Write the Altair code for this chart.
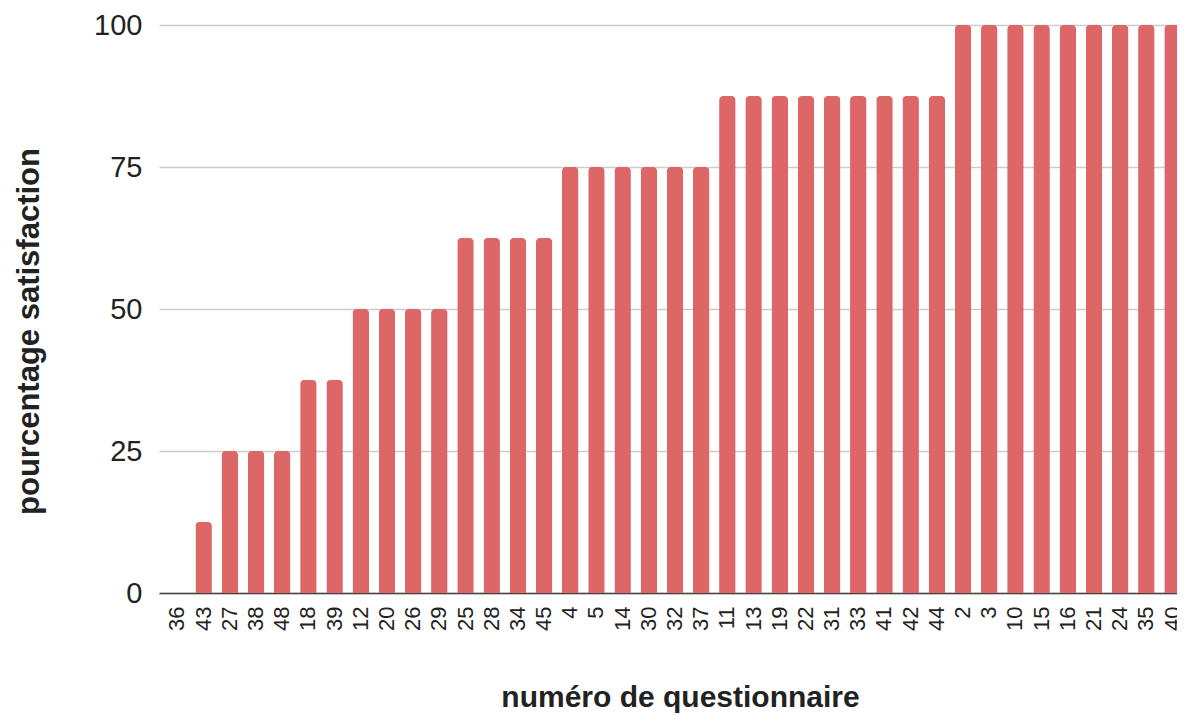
import altair as alt
import pandas as pd

questionnaires = ["36", "43", "27", "38", "48", "18", "39", "12", "20", "26", "29",
                  "25", "28", "34", "45", "4", "5", "14", "30", "32", "37",
                  "11", "13", "19", "22", "31", "33", "41", "42", "44",
                  "2", "3", "10", "15", "16", "21", "24", "35", "40"]
satisfaction = [0, 12.5, 25, 25, 25, 37.5, 37.5, 50, 50, 50, 50,
                62.5, 62.5, 62.5, 62.5, 75, 75, 75, 75, 75, 75,
                87.5, 87.5, 87.5, 87.5, 87.5, 87.5, 87.5, 87.5, 87.5,
                100, 100, 100, 100, 100, 100, 100, 100, 100]
y_ticks = [0, 25, 50, 75, 100]

df = pd.DataFrame({"q": questionnaires, "pct": satisfaction})

FONT = "Liberation Sans"

chart = alt.Chart(df).mark_bar(
    color="#DD6666", cornerRadiusTopLeft=4, cornerRadiusTopRight=4
).encode(
    x=alt.X("q:N", sort=questionnaires,
            scale=alt.Scale(paddingInner=0.37, paddingOuter=0.39),
            axis=alt.Axis(title="numéro de questionnaire", labelAngle=-90,
                          labelFontSize=22, labelFont=FONT, labelColor="#222222",
                          labelPadding=13, ticks=False, grid=False,
                          domainColor="#444444", domainWidth=1.5,
                          titleFont=FONT, titleFontSize=30, titleFontWeight="bold",
                          titleColor="#222222", titleX=521, titleY=104,
                          titleBaseline="middle", titleAlign="center")),
    y=alt.Y("pct:Q", scale=alt.Scale(domain=[0, 100], nice=False),
            axis=alt.Axis(title="pourcentage satisfaction", values=y_ticks,
                          labelFontSize=29, labelFont=FONT, labelColor="#222222",
                          labelPadding=17, ticks=False, domain=False,
                          gridColor="#CCCCCC", gridWidth=1.5,
                          titleFont=FONT, titleFontSize=31, titleFontWeight="bold",
                          titleColor="#222222", titleX=-130, titleY=306,
                          titleAngle=270, titleBaseline="middle", titleAlign="center")),
).properties(
    width=1032, height=568,
    autosize=alt.AutoSizeParams(type="none"),
    padding={"left": 151, "top": 17, "right": -14, "bottom": 122},
).configure_view(stroke=None)

chart.save("out.html", embed_options={"renderer": "svg", "actions": False})
